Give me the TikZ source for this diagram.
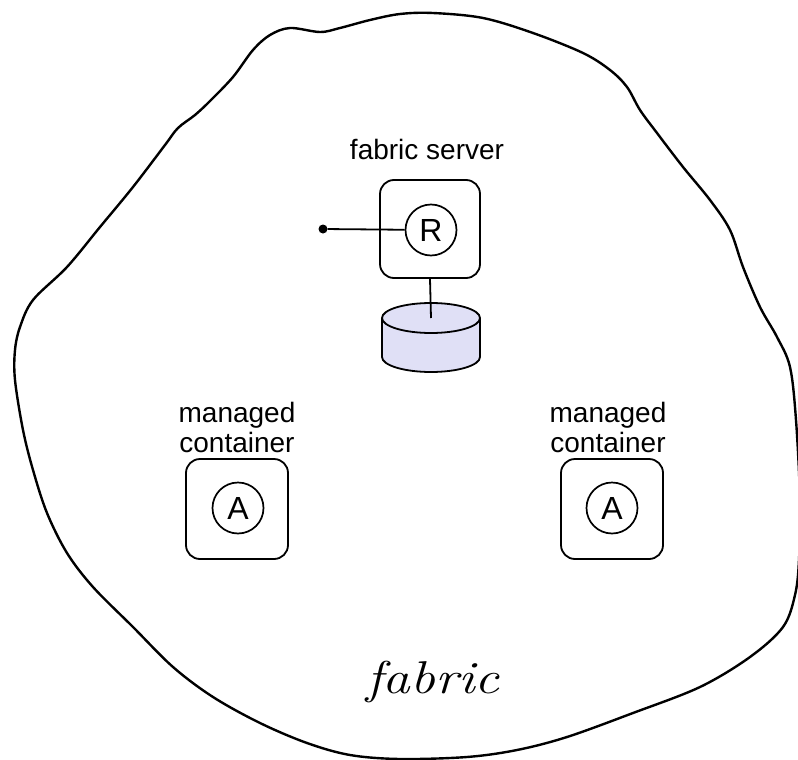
\documentclass[tikz,border=0pt]{standalone}
\usepackage{fontspec}
\newfontfamily\sansf{Liberation Sans}
\definecolor{dbfill}{RGB}{224,224,246}
\tikzset{
  rbox/.style={draw, line width=1.8pt, rounded corners=14pt, minimum width=100pt, minimum height=98pt, inner sep=0pt},
  circ/.style={draw, circle, line width=1.7pt, minimum size=51pt, inner sep=0pt, font=\sansf\fontsize{32}{32}\selectfont},
  lbl/.style={inner sep=0pt, anchor=base, font=\sansf\fontsize{28}{30}\selectfont},
  conn/.style={line width=1.8pt},
  dotnode/.style={circle, fill, minimum size=9pt, inner sep=0pt},
}
\begin{document}
\begin{tikzpicture}[x=1pt, y=-1pt]
\useasboundingbox (0,0) rectangle (798,760);
% fabric outline
\draw[line width=2.4pt, line join=round] plot[smooth cycle, tension=0.55] coordinates {
 (400,14) (433,13) (483,18) (533,33) (583,53) (610,70) (627,87) (640,110) (657,133)
 (683,167) (710,200) (730,230) (743,267) (760,307) (777,337) (790,367) (796,420)
 (800,500) (799,560) (795,595) (783,627) (750,657) (700,687) (633,713) (567,737)
 (517,750) (467,757) (400,759) (350,755) (307,743) (260,723) (213,697) (173,667)
 (133,627) (93,587) (67,553) (47,513) (33,470) (23,430) (15,380) (15,350) (20,327)
 (33,300) (67,267) (100,227) (133,187) (165,145) (178,128) (195,115) (210,101)
 (233,77) (253,50) (270,35) (290,28) (320,32) (340,28) (370,20)};

% fabric server
\node[lbl] (srvlbl) at (427,159) {fabric server};
\node[rbox] (srv) at (430,229) {};
\node[circ] (R) at (431,230) {R};
\node[dotnode] (dot) at (323,229) {};
\draw[conn] (dot) -- (R);

% database cylinder
\filldraw[fill=dbfill, line width=1.8pt] (382,318) -- (382,357)
  arc[start angle=180, end angle=360, x radius=49pt, y radius=15pt] -- (480,318)
  arc[start angle=0, end angle=180, x radius=49pt, y radius=15pt] -- cycle;
\draw[line width=1.8pt] (382,318) arc[start angle=180, end angle=360, x radius=49pt, y radius=15pt];
\coordinate (dbtop) at (431,318);
\draw[conn] (srv.south) -- (dbtop);

% left managed container
\node[lbl] (l1) at (237,422) {managed};
\node[lbl] (l2) at (237,452) {container};
\node[rbox, minimum width=102pt, minimum height=100pt] (lbox) at (237,509) {};
\node[circ] (lA) at (238,508) {A};

% right managed container
\node[lbl] (r1) at (608,422) {managed};
\node[lbl] (r2) at (608,452) {container};
\node[rbox, minimum width=102pt, minimum height=100pt] (rbox2) at (612,509) {};
\node[circ] (rA) at (612,508) {A};

% fabric label
\node[inner sep=0pt, anchor=base, font=\fontsize{46}{46}\selectfont\itshape\addfontfeature{FakeBold=1.2}, xscale=1.2] (fab) at (433,693) {fabric};
\end{tikzpicture}
\end{document}
